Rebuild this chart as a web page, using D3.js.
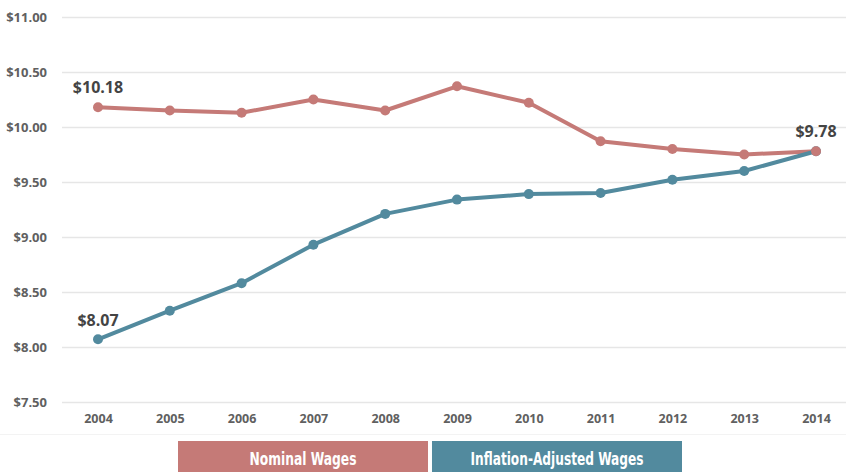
<!DOCTYPE html>
<html>
<head>
<meta charset="utf-8">
<script src="https://cdn.jsdelivr.net/npm/d3@7"></script>
<style>
html,body{margin:0;padding:0;background:#fff;}
svg{display:block;}
</style>
</head>
<body>
<svg id="chart" width="846" height="472"></svg>
<script>
const years = [2004,2005,2006,2007,2008,2009,2010,2011,2012,2013,2014];
const nominalWages = [10.18,10.15,10.13,10.25,10.15,10.37,10.22,9.87,9.80,9.75,9.78];
const inflationAdjustedWages = [8.07,8.33,8.58,8.93,9.21,9.34,9.39,9.40,9.52,9.60,9.78];
const yTicks = [7.5,8,8.5,9,9.5,10,10.5,11];
const seriesNames = ["Nominal Wages","Inflation-Adjusted Wages"];
const seriesColors = ["#c57a77","#528a9e"];

const svg = d3.select("#chart");
const x = d3.scaleLinear().domain([2004,2014]).range([98,816]);
const y = d3.scaleLinear().domain([7.5,11]).range([402,17]);

// faint frame line
svg.append("line").attr("x1",0).attr("x2",846).attr("y1",434.5).attr("y2",434.5)
  .attr("stroke","#f3f3f3").attr("stroke-width",1);

// y axis gridlines
const yAxis = d3.axisLeft(y).tickValues(yTicks).tickSize(-(846-62)).tickFormat(d=>"$"+d3.format(".2f")(d));
const gy = svg.append("g").attr("transform","translate(62,0)").call(yAxis);
gy.select(".domain").remove();
gy.selectAll(".tick line").attr("stroke","#e6e6e6").attr("stroke-width",1.5);
gy.selectAll(".tick text").attr("x",-15).attr("fill","#606060")
  .style("font-family","'Open Sans',sans-serif").style("font-size","13px").style("font-weight","700");

// x axis
const xAxis = d3.axisBottom(x).tickValues(years).tickSize(0).tickFormat(d3.format("d"));
const gx = svg.append("g").attr("transform","translate(0,402)").call(xAxis);
gx.select(".domain").remove();
gx.selectAll(".tick text").attr("dy","0").attr("y",21).attr("fill","#606060")
  .style("font-family","'Open Sans',sans-serif").style("font-size","12.5px").style("font-weight","700");

const line = d3.line().x((d,i)=>x(years[i])).y(d=>y(d));
[nominalWages, inflationAdjustedWages].forEach((vals,si)=>{
  svg.append("path").datum(vals).attr("d",line).attr("fill","none")
    .attr("stroke",seriesColors[si]).attr("stroke-width",4).attr("stroke-linejoin","round");
});
// points: draw teal first, nominal on top
[inflationAdjustedWages, nominalWages].forEach((vals,k)=>{
  const si = k===0?1:0;
  svg.append("g").selectAll("circle").data(vals).join("circle")
    .attr("cx",(d,i)=>x(years[i])).attr("cy",d=>y(d)).attr("r",5)
    .attr("fill",seriesColors[si]);
});

// annotations
const fmt = d=>"$"+d3.format(".2f")(d);
const ann = [
  {i:0, v:nominalWages[0], dy:-14},
  {i:0, v:inflationAdjustedWages[0], dy:-13},
  {i:10, v:nominalWages[10], dy:-14}
];
svg.append("g").selectAll("text").data(ann).join("text")
  .attr("x",d=>x(years[d.i])).attr("y",d=>y(d.v)+d.dy)
  .attr("text-anchor","middle")
  .attr("fill","#444")
  .style("font-family","'Open Sans',sans-serif").style("font-size","16px").style("font-weight","700")
  .text(d=>fmt(d.v));

// legend
const lx = d3.scaleBand().domain(seriesNames).range([178,682]).paddingInner(0.0157);
const legendTextWidth = [107,173];
const lg = svg.append("g").selectAll("g").data(seriesNames).join("g");
lg.append("rect").attr("x",d=>lx(d)).attr("y",441).attr("width",lx.bandwidth()).attr("height",31)
  .attr("fill",(d,i)=>seriesColors[i]);
lg.append("text").attr("x",(d,i)=>lx(d)+lx.bandwidth()/2-legendTextWidth[i]/2).attr("y",465)
  .attr("fill","#fff")
  .attr("textLength",(d,i)=>legendTextWidth[i]).attr("lengthAdjust","spacingAndGlyphs")
  .style("font-family","'Liberation Sans Narrow','DejaVu Sans Condensed',sans-serif")
  .style("font-size","17px").style("font-weight","700")
  .text(d=>d);
</script>
</body>
</html>
